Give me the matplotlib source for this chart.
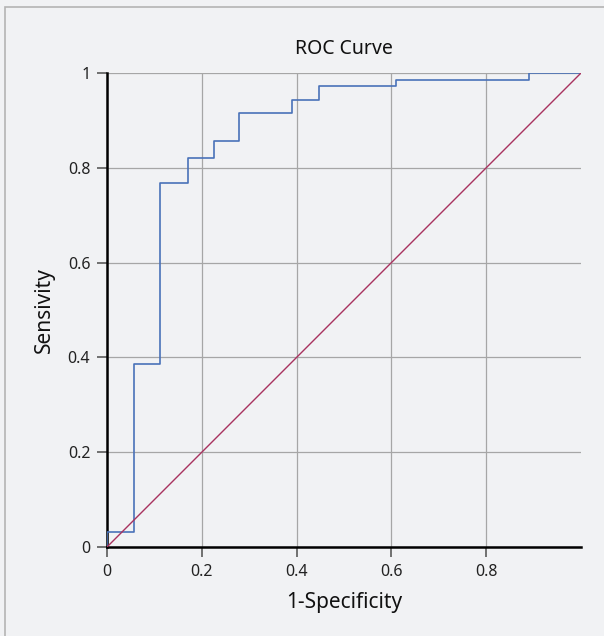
import matplotlib
matplotlib.use("Agg")
import matplotlib.pyplot as plt
from matplotlib.patches import Rectangle

# ROC step points (1-specificity, sensitivity)
fpr = [0.0, 0.0, 0.058, 0.058, 0.112, 0.112, 0.171, 0.171, 0.226, 0.226,
       0.278, 0.278, 0.390, 0.390, 0.447, 0.447, 0.610, 0.610, 0.891, 0.891, 1.0]
tpr = [0.0, 0.032, 0.032, 0.387, 0.387, 0.768, 0.768, 0.821, 0.821, 0.857,
       0.857, 0.916, 0.916, 0.944, 0.944, 0.973, 0.973, 0.986, 0.986, 1.0, 1.0]
ref_x = [0, 1]
ref_y = [0, 1]
xticks = [0, 0.2, 0.4, 0.6, 0.8]
xtick_labels = ["0", "0.2", "0.4", "0.6", "0.8"]
yticks = [0, 0.2, 0.4, 0.6, 0.8, 1]
ytick_labels = ["0", "0.2", "0.4", "0.6", "0.8", "1"]

plt.rcParams['font.family'] = ['Noto Sans', 'DejaVu Sans']
bg = '#f1f2f4'

fig = plt.figure(figsize=(6.04, 6.36), dpi=100, facecolor=bg)
# thin frame at top and left edge of the panel
fig.patches.append(Rectangle((5/604, -0.1), 1.2, 1 - 7/636 + 0.1,
                             transform=fig.transFigure, fill=False,
                             edgecolor='#b4b4b4', linewidth=1.2))

ax = fig.add_axes([107/604, 89/636, 474/604, 474/636])
ax.set_facecolor(bg)

ax.plot(fpr, tpr, color='#4a72b8', linewidth=1.2, zorder=3)
ax.plot(ref_x, ref_y, color='#a8325e', linewidth=1.0, zorder=3)

ax.set_xlim(0, 1)
ax.set_ylim(0, 1)
ax.set_xticks(xticks)
ax.set_xticklabels(xtick_labels)
ax.set_yticks(yticks)
ax.set_yticklabels(ytick_labels)
ax.grid(True, color='#a6a6a6', linewidth=0.9, zorder=1)
ax.set_axisbelow(True)

for s in ['top', 'right']:
    ax.spines[s].set_visible(False)
for s in ['left', 'bottom']:
    ax.spines[s].set_color('black')
    ax.spines[s].set_linewidth(1.8)

ax.tick_params(axis='both', colors='#666666', labelcolor='#222222',
               labelsize=11.5, length=7, width=1.3, pad=5)

ax.set_title("ROC Curve", fontsize=14, color='#111111', pad=14)
ax.set_xlabel("1-Specificity", fontsize=15, color='#111111', labelpad=9)
ax.set_ylabel("Sensivity", fontsize=15, color='#111111', labelpad=9)

fig.savefig("out.png", dpi=100, facecolor=bg)
